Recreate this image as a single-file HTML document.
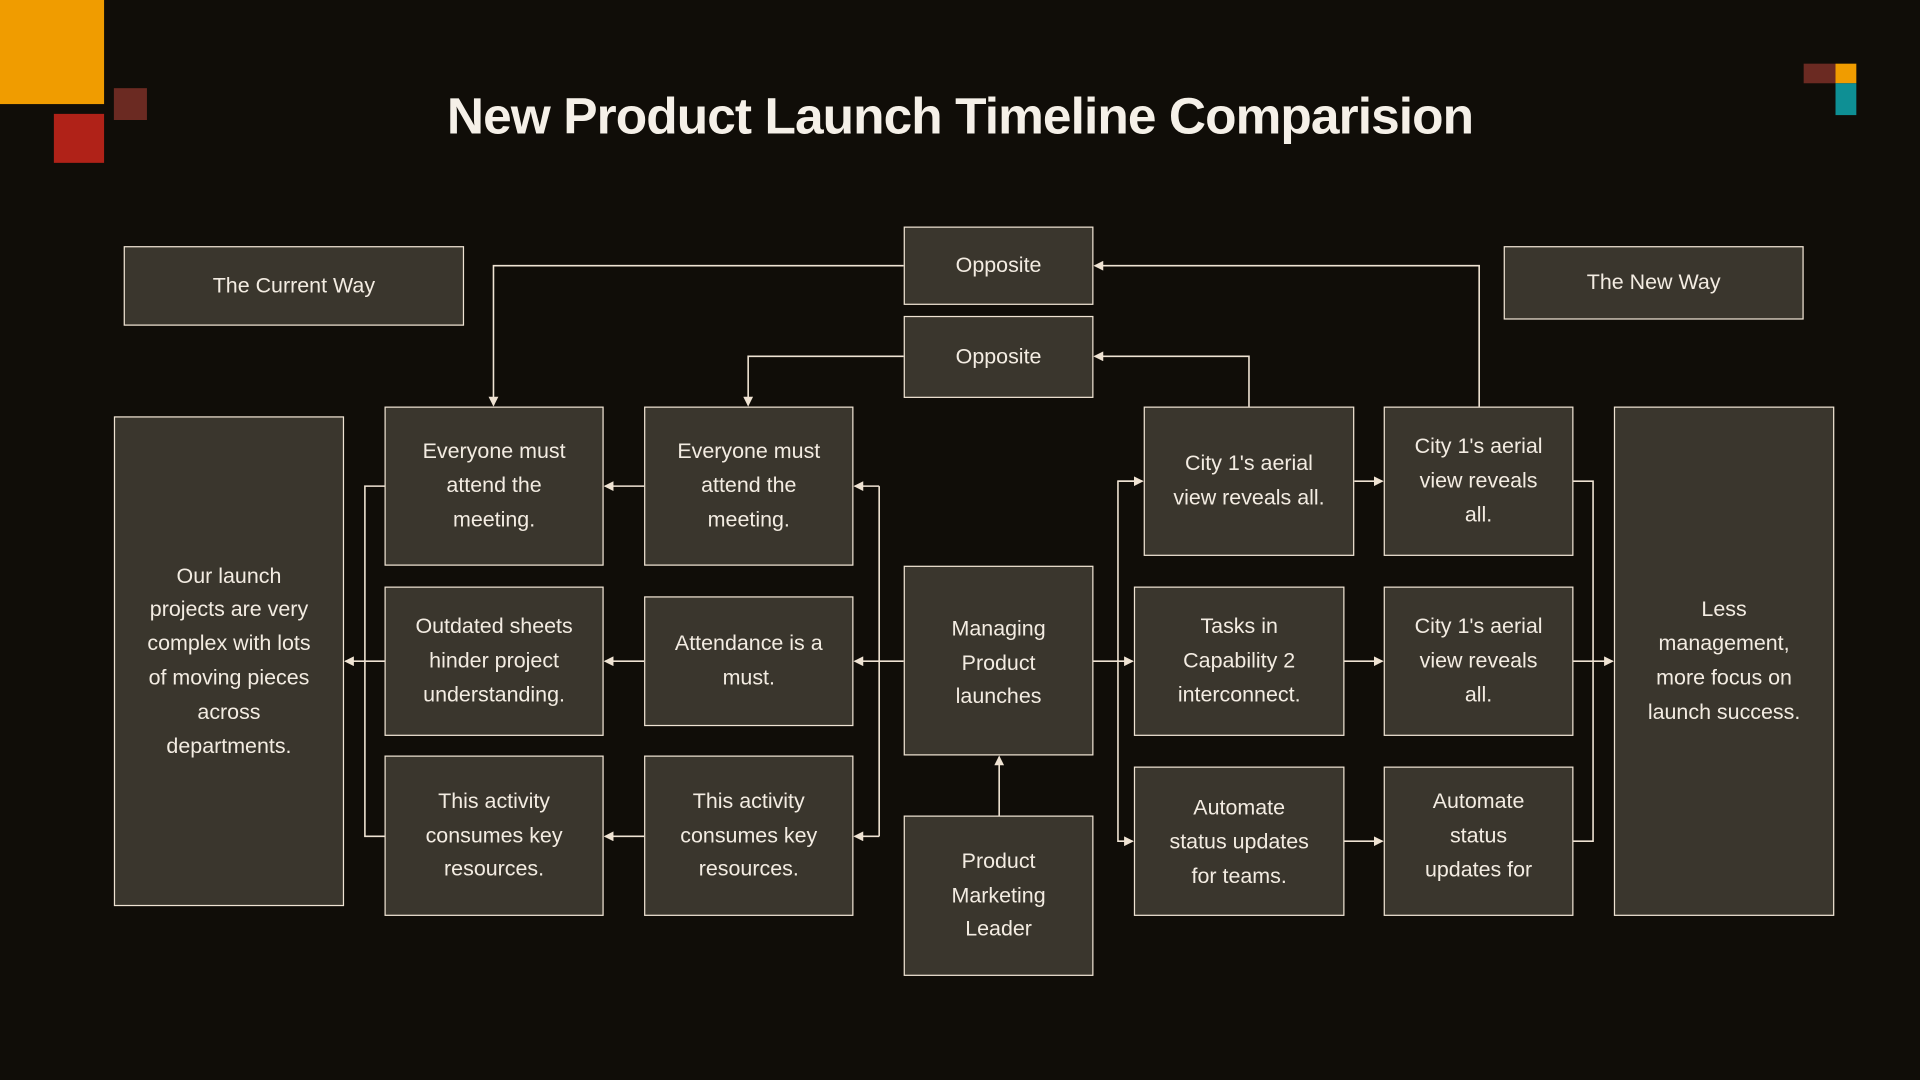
<!DOCTYPE html>
<html><head><meta charset="utf-8"><style>
html,body{margin:0;padding:0;background:#100d08;overflow:hidden}
#w{position:absolute;left:0;top:0;width:1568px;height:882px;transform:scale(1.22449);transform-origin:0 0;font-family:"Liberation Sans",sans-serif}
.r{position:absolute}
.b{position:absolute;box-sizing:border-box;background:#3a362d;border:1.6px solid #efe3d3;color:#f3ece2;font-size:17.5px;line-height:27.8px;display:flex;align-items:center;justify-content:center;text-align:center;padding:0 2px;white-space:nowrap}
h1{position:absolute;left:0;width:1568px;top:71px;margin:0;text-align:center;color:#f5f0e8;font-size:42px;font-weight:bold;letter-spacing:-0.75px}
svg{position:absolute;left:0;top:0}
</style></head><body><div id="w">
<div class="r" style="left:0;top:0;width:85px;height:85px;background:#f09c00"></div>
<div class="r" style="left:93px;top:72px;width:27px;height:26px;background:#6b2a22"></div>
<div class="r" style="left:44px;top:93px;width:41px;height:40px;background:#b02218"></div>
<div class="r" style="left:1473px;top:52px;width:26px;height:16px;background:#6b2a22"></div>
<div class="r" style="left:1499px;top:52px;width:17px;height:16px;background:#f09c00"></div>
<div class="r" style="left:1499px;top:68px;width:17px;height:26px;background:#0e8f94"></div>
<h1>New Product Launch Timeline Comparision</h1>
<svg width="1568" height="882" viewBox="0 0 1568 882">
<defs><marker id="a" markerWidth="8" markerHeight="8" refX="7" refY="4" orient="auto" markerUnits="userSpaceOnUse"><path d="M0,0 L8,4 L0,8 Z" fill="#efe3d3"/></marker></defs>
<g stroke="#efe3d3" stroke-width="1.3" fill="none">
<path d="M738,217 H403 V331" marker-end="url(#a)"/>
<path d="M1208,332 V217 H894" marker-end="url(#a)"/>
<path d="M738,291 H611 V331" marker-end="url(#a)"/>
<path d="M1020,332 V291 H894" marker-end="url(#a)"/>
<path d="M738,540 H698" marker-end="url(#a)"/>
<path d="M718,397 V683"/>
<path d="M718,397 H698" marker-end="url(#a)"/>
<path d="M718,683 H698" marker-end="url(#a)"/>
<path d="M526,397 H494" marker-end="url(#a)"/>
<path d="M526,540 H494" marker-end="url(#a)"/>
<path d="M526,683 H494" marker-end="url(#a)"/>
<path d="M314,397 H298 V683 H314"/>
<path d="M314,540 H282" marker-end="url(#a)"/>
<path d="M893,540 H925" marker-end="url(#a)"/>
<path d="M933,393 H913 V687 H925" marker-end="url(#a)"/>
<path d="M913,393 H933" marker-end="url(#a)"/>
<path d="M1106,393 H1129" marker-end="url(#a)"/>
<path d="M1098,540 H1129" marker-end="url(#a)"/>
<path d="M1098,687 H1129" marker-end="url(#a)"/>
<path d="M1285,393 H1301 V687 H1285"/>
<path d="M1285,540 H1317" marker-end="url(#a)"/>
<path d="M816,666 V618" marker-end="url(#a)"/>
</g></svg>
<div class="b" style="left:101px;top:201px;width:278px;height:65px">The Current Way</div>
<div class="b" style="left:738px;top:185px;width:155px;height:64px">Opposite</div>
<div class="b" style="left:738px;top:258px;width:155px;height:67px">Opposite</div>
<div class="b" style="left:1228px;top:201px;width:245px;height:60px">The New Way</div>
<div class="b" style="left:93px;top:340px;width:188px;height:400px">Our launch<br>projects are very<br>complex with lots<br>of moving pieces<br>across<br>departments.</div>
<div class="b" style="left:314px;top:332px;width:179px;height:130px">Everyone must<br>attend the<br>meeting.</div>
<div class="b" style="left:526px;top:332px;width:171px;height:130px">Everyone must<br>attend the<br>meeting.</div>
<div class="b" style="left:314px;top:479px;width:179px;height:122px">Outdated sheets<br>hinder project<br>understanding.</div>
<div class="b" style="left:526px;top:487px;width:171px;height:106px">Attendance is a<br>must.</div>
<div class="b" style="left:314px;top:617px;width:179px;height:131px">This activity<br>consumes key<br>resources.</div>
<div class="b" style="left:526px;top:617px;width:171px;height:131px">This activity<br>consumes key<br>resources.</div>
<div class="b" style="left:738px;top:462px;width:155px;height:155px;padding-top:4px">Managing<br>Product<br>launches</div>
<div class="b" style="left:738px;top:666px;width:155px;height:131px">Product<br>Marketing<br>Leader</div>
<div class="b" style="left:934px;top:332px;width:172px;height:122px">City 1's aerial<br>view reveals all.</div>
<div class="b" style="left:1130px;top:332px;width:155px;height:122px">City 1's aerial<br>view reveals<br>all.</div>
<div class="b" style="left:926px;top:479px;width:172px;height:122px">Tasks in<br>Capability 2<br>interconnect.</div>
<div class="b" style="left:1130px;top:479px;width:155px;height:122px">City 1's aerial<br>view reveals<br>all.</div>
<div class="b" style="left:926px;top:626px;width:172px;height:122px;padding-top:2px">Automate<br>status updates<br>for teams.</div>
<div class="b" style="left:1130px;top:626px;width:155px;height:122px;padding-bottom:8px">Automate<br>status<br>updates for</div>
<div class="b" style="left:1318px;top:332px;width:180px;height:416px">Less<br>management,<br>more focus on<br>launch success.</div>
</div></body></html>
